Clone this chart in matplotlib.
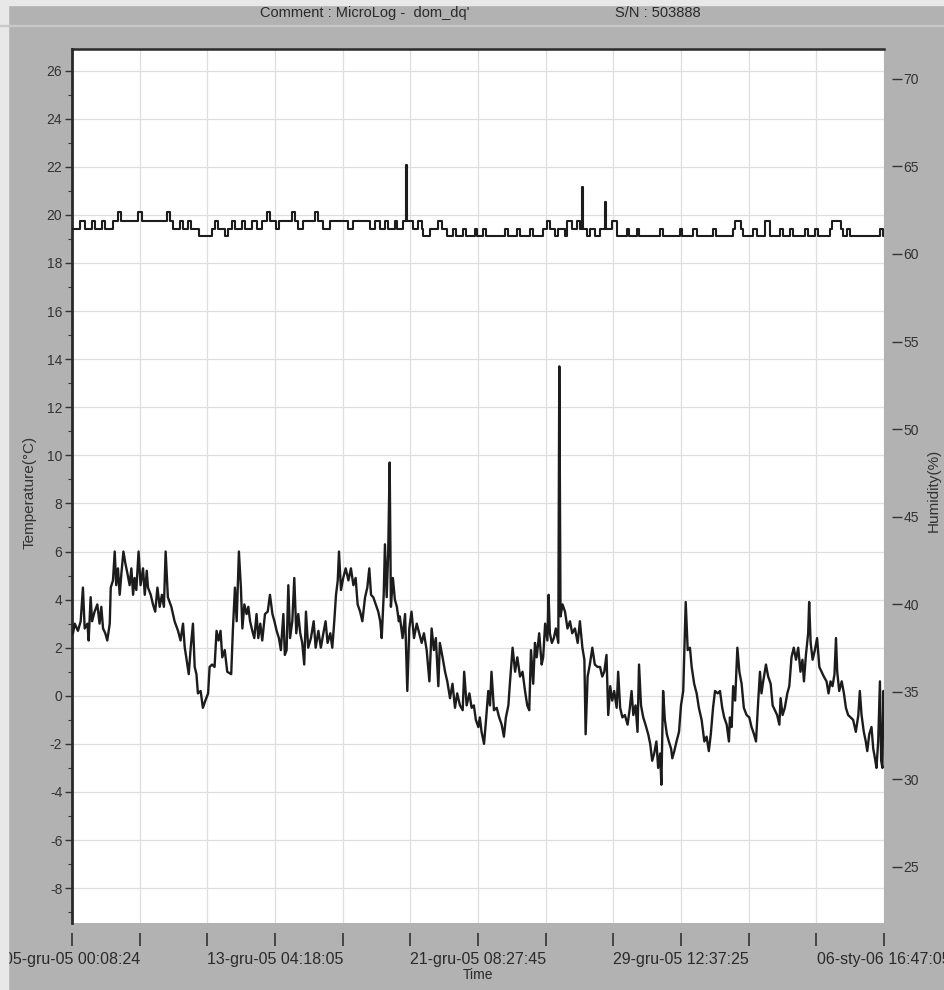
import matplotlib
matplotlib.use("Agg")
import matplotlib.pyplot as plt
from matplotlib.ticker import MultipleLocator
from matplotlib.patches import Rectangle

# ---- data (time in days since 05-12-2005 00:08:24) ----
temperature = [
    (0.04, 2.6), (0.11, 3.0), (0.24, 2.7), (0.35, 3.1), (0.44, 4.5), (0.51, 2.8), (0.62, 3.0), (0.67, 2.3),
    (0.75, 4.1), (0.81, 3.1), (0.91, 3.5), (1.02, 3.8), (1.11, 3.0), (1.18, 3.7), (1.25, 2.8), (1.34, 2.6),
    (1.42, 2.3), (1.52, 3.0), (1.56, 4.5), (1.65, 4.8), (1.72, 6.0), (1.78, 4.6), (1.85, 5.3), (1.92, 4.2),
    (1.99, 5.1), (2.07, 6.0), (2.15, 5.5), (2.23, 5.1), (2.32, 4.6), (2.39, 5.3), (2.46, 4.2), (2.52, 4.9),
    (2.59, 4.4), (2.68, 6.0), (2.76, 4.6), (2.86, 5.3), (2.93, 4.2), (3.01, 5.2), (3.06, 4.5), (3.17, 4.2),
    (3.26, 3.8), (3.35, 3.5), (3.44, 4.5), (3.53, 3.7), (3.62, 4.2), (3.70, 3.7), (3.77, 6.0), (3.86, 4.1),
    (4.00, 3.7), (4.13, 3.1), (4.27, 2.7), (4.37, 2.3), (4.47, 3.0), (4.54, 2.0), (4.60, 1.6), (4.70, 0.9),
    (4.78, 2.0), (4.87, 3.0), (4.94, 1.2), (5.01, 0.9), (5.07, 0.1), (5.18, 0.2), (5.27, -0.5), (5.37, -0.2),
    (5.48, 0.1), (5.54, 1.2), (5.64, 1.3), (5.74, 1.2), (5.82, 2.7), (5.90, 2.3), (5.98, 2.7), (6.05, 1.6),
    (6.15, 1.9), (6.25, 1.0), (6.41, 0.9), (6.48, 2.8),
    (6.56, 4.5), (6.63, 3.1), (6.72, 6.0), (6.80, 4.5), (6.86, 2.8), (6.94, 3.8), (7.03, 3.4), (7.10, 3.7),
    (7.17, 3.1), (7.26, 2.7), (7.34, 2.4), (7.43, 3.4), (7.50, 2.4), (7.58, 3.0), (7.66, 2.3), (7.77, 3.4),
    (7.88, 3.5), (7.97, 4.2), (8.07, 3.4), (8.15, 3.1), (8.24, 2.7), (8.33, 2.4), (8.41, 1.9), (8.51, 3.4),
    (8.57, 1.7), (8.64, 1.9), (8.71, 4.6), (8.78, 2.4), (8.87, 3.1), (8.95, 4.9), (9.03, 2.6), (9.11, 3.4),
    (9.19, 2.6), (9.27, 2.2), (9.35, 1.3), (9.42, 3.5), (9.51, 2.0), (9.62, 2.4), (9.73, 3.1), (9.81, 2.0),
    (9.92, 2.7), (10.02, 2.0), (10.12, 2.6), (10.21, 3.1), (10.29, 2.2), (10.40, 2.6), (10.48, 2.0),
    (10.56, 3.1), (10.63, 4.2), (10.70, 4.8), (10.75, 6.0), (10.83, 4.4), (10.92, 4.9), (11.02, 5.3),
    (11.13, 4.8), (11.23, 5.3), (11.33, 4.6), (11.42, 4.9), (11.50, 3.8), (11.60, 3.5), (11.69, 3.1),
    (11.80, 4.1), (11.89, 4.5), (11.97, 5.3), (12.04, 4.2), (12.13, 4.1), (12.23, 3.8), (12.33, 3.5),
    (12.41, 3.1), (12.47, 2.4), (12.55, 4.2), (12.60, 6.3), (12.67, 4.1), (12.73, 5.9), (12.79, 9.7),
    (12.84, 3.7), (12.92, 4.9), (13.00, 4.0), (13.08, 3.7), (13.16, 3.1),
    (13.20, 3.3), (13.31, 2.4), (13.41, 3.4), (13.50, 0.2), (13.58, 2.8), (13.67, 3.5), (13.77, 2.4),
    (13.88, 3.0), (13.98, 2.6), (14.08, 2.2), (14.17, 2.6), (14.28, 1.9), (14.39, 0.6), (14.48, 2.8),
    (14.57, 1.9), (14.65, 2.4), (14.75, 0.4), (14.81, 2.2), (14.92, 1.6), (15.02, 1.0), (15.11, 0.6),
    (15.22, -0.1), (15.32, 0.5), (15.42, -0.5), (15.51, 0.1), (15.62, -0.4), (15.73, -0.6), (15.79, 1.0),
    (15.89, -0.4), (16.00, 0.1), (16.09, -0.5), (16.18, -0.4), (16.26, -1.0), (16.36, -1.3), (16.42, -0.9),
    (16.49, -1.5), (16.59, -2.0), (16.67, -1.0), (16.76, 0.2), (16.83, -0.4), (16.89, 1.0), (16.99, -0.6),
    (17.10, -0.5), (17.20, -0.9), (17.30, -1.2), (17.39, -1.7), (17.47, -0.9), (17.57, -0.4), (17.63, 0.5),
    (17.74, 2.0), (17.84, 1.0), (17.93, 1.6), (18.04, 0.8), (18.14, 1.0), (18.24, 0.2), (18.33, -0.4),
    (18.41, -0.6), (18.48, 1.9), (18.57, 0.5), (18.64, 2.2), (18.71, 1.6), (18.81, 2.6), (18.91, 1.3),
    (18.97, 1.6), (19.05, 3.0), (19.14, 2.3), (19.19, 4.2), (19.24, 2.6), (19.32, 2.2), (19.40, 2.4),
    (19.48, 2.8), (19.58, 2.2), (19.62, 13.7), (19.67, 3.3), (19.75, 3.8),
    (19.85, 3.5), (19.95, 2.8), (20.05, 3.1), (20.14, 2.6), (20.25, 2.8), (20.36, 2.2), (20.45, 3.1),
    (20.55, 2.0), (20.63, 1.5), (20.68, -1.6), (20.76, 0.8), (20.85, 1.3), (20.95, 2.0), (21.05, 1.3),
    (21.16, 1.2), (21.26, 1.2), (21.35, 0.8), (21.43, 1.0), (21.52, 1.7), (21.59, -0.8), (21.67, 0.4),
    (21.75, -0.2), (21.83, 0.2), (21.93, -0.5), (21.99, 1.0), (22.07, -0.5), (22.16, -0.9), (22.26, -0.8),
    (22.37, -1.2), (22.46, -0.5), (22.53, 0.2), (22.60, -0.8), (22.69, -0.4), (22.77, -1.5), (22.83, 1.3),
    (22.91, -0.4), (23.00, -0.9), (23.09, -1.2), (23.20, -1.6), (23.28, -2.0), (23.36, -2.7), (23.44, -2.4),
    (23.53, -1.9), (23.60, -3.0), (23.68, -2.4), (23.73, -3.7), (23.80, 0.2), (23.87, -1.0), (23.95, -1.6),
    (24.03, -1.9), (24.12, -2.2), (24.17, -2.6), (24.25, -2.3), (24.34, -1.9), (24.44, -1.5), (24.52, -0.4),
    (24.61, 0.2), (24.71, 3.9), (24.79, 1.9), (24.88, 2.0), (24.95, 1.2), (25.05, 0.5), (25.15, 0.1),
    (25.24, -0.5), (25.35, -1.0), (25.46, -1.9), (25.55, -1.7), (25.64, -2.3), (25.72, -1.6), (25.81, -0.5),
    (25.89, 0.2), (26.00, 0.1), (26.09, 0.2), (26.18, -0.5), (26.26, -0.9), (26.36, -1.2), (26.45, -1.9),
    (26.49, -0.9), (26.56, -1.3), (26.62, 0.4), (26.70, -0.2), (26.79, 2.0), (26.87, 1.0), (26.96, 0.5),
    (27.05, -0.5), (27.16, -0.8), (27.27, -0.9), (27.36, -1.3), (27.46, -1.6), (27.54, -1.9), (27.63, -0.2),
    (27.70, 1.0), (27.76, 0.1), (27.83, 0.6), (27.94, 1.3), (28.03, 0.8), (28.13, 0.5), (28.21, -0.4),
    (28.30, -0.6), (28.39, -0.8), (28.48, -1.2), (28.53, -0.1), (28.61, -0.8), (28.70, -0.5), (28.80, 0.1),
    (28.88, 0.4), (28.97, 1.6), (29.06, 2.0), (29.15, 1.5), (29.24, 2.0), (29.33, 1.0), (29.41, 1.5),
    (29.47, 0.6), (29.55, 1.7), (29.64, 2.6), (29.68, 3.9), (29.74, 2.2), (29.82, 1.5), (29.91, 1.9),
    (30.00, 2.4), (30.09, 1.2), (30.18, 1.0), (30.27, 0.8), (30.38, 0.6), (30.46, 0.1), (30.54, 0.6),
    (30.62, 0.4), (30.70, 0.9), (30.76, 2.4), (30.81, 1.0), (30.89, 0.2), (30.99, 0.6), (31.08, 0.1),
    (31.16, -0.5), (31.25, -0.8), (31.35, -0.9), (31.45, -1.0), (31.56, -1.5), (31.66, -0.8), (31.72, 0.2),
    (31.79, -0.8), (31.88, -1.5), (31.96, -1.9), (32.02, -2.3), (32.10, -1.6), (32.19, -1.3), (32.26, -2.2),
    (32.33, -2.6), (32.39, -3.0), (32.46, -1.9), (32.53, 0.6), (32.58, -2.7), (32.63, -3.0), (32.67, 0.2),
    (32.69, -1.0),
]

humidity = [
    (0.00, 61.45), (0.32, 61.9), (0.52, 61.45), (0.79, 61.9), (0.93, 61.45), (1.19, 61.9), (1.33, 61.45),
    (1.66, 61.9), (1.87, 62.4), (1.96, 61.9), (2.67, 62.4), (2.80, 61.9), (3.81, 62.4), (3.95, 61.9),
    (4.05, 61.45), (4.35, 61.9), (4.46, 61.45), (4.68, 61.9), (4.78, 61.45), (5.13, 61.0), (5.62, 61.45),
    (5.76, 61.9), (5.89, 61.45), (6.16, 61.0), (6.29, 61.45), (6.43, 61.9), (6.56, 61.45), (6.83, 61.9),
    (6.96, 61.45), (7.23, 61.9), (7.43, 61.45), (7.64, 61.9), (7.84, 62.4), (7.97, 61.9), (8.21, 61.45),
    (8.34, 61.9), (8.84, 62.4), (8.97, 61.9), (9.10, 61.45), (9.31, 61.9), (9.78, 62.4), (9.92, 61.9),
    (10.12, 61.45), (10.39, 61.9), (11.12, 61.45), (11.33, 61.9), (12.00, 61.45), (12.20, 61.9),
    (12.40, 61.45), (12.60, 61.9), (12.73, 61.45), (13.00, 61.9), (13.07, 61.45), (13.34, 61.9),
    (13.43, 65.1), (13.48, 61.9), (13.74, 61.45), (13.94, 61.9), (14.08, 61.45), (14.14, 61.0),
    (14.41, 61.45), (14.75, 61.9), (14.88, 61.45), (15.08, 61.0), (15.35, 61.45), (15.46, 61.0),
    (15.75, 61.45), (15.86, 61.0), (16.22, 61.45), (16.32, 61.0), (16.56, 61.45), (16.67, 61.0),
    (17.43, 61.45), (17.57, 61.0), (17.90, 61.45), (18.03, 61.0), (18.43, 61.45), (18.57, 61.0),
    (18.98, 61.45), (19.11, 61.9), (19.25, 61.45), (19.44, 61.0), (19.58, 61.45), (19.85, 61.0),
    (19.94, 61.9), (20.12, 61.45), (20.32, 61.9), (20.45, 61.45), (20.52, 63.8), (20.56, 61.45),
    (20.73, 61.0), (20.85, 61.45), (21.06, 61.0), (21.26, 61.45), (21.46, 62.95), (21.52, 61.45),
    (21.73, 61.9), (21.93, 61.0), (22.33, 61.45), (22.44, 61.0), (22.73, 61.45), (22.84, 61.0),
    (23.67, 61.45), (23.80, 61.0), (24.48, 61.45), (24.58, 61.0), (25.02, 61.45), (25.15, 61.0),
    (25.82, 61.45), (25.92, 61.0), (26.62, 61.45), (26.70, 61.9), (26.95, 61.45), (27.03, 61.0),
    (27.43, 61.45), (27.57, 61.0), (27.90, 61.9), (28.10, 61.0), (28.50, 61.45), (28.64, 61.0),
    (28.90, 61.45), (29.04, 61.0), (29.51, 61.45), (29.64, 61.0), (29.91, 61.45), (30.05, 61.0),
    (30.51, 61.45), (30.58, 61.9), (30.98, 61.45), (31.05, 61.0), (31.19, 61.45), (31.32, 61.0),
    (32.53, 61.45), (32.66, 61.0), (32.69, 61.0),
]

x_label_days = [0.0, 8.17338, 16.34676, 24.52014, 32.69352]
x_labels = ["05-gru-05 00:08:24", "13-gru-05 04:18:05", "21-gru-05 08:27:45",
            "29-gru-05 12:37:25", "06-sty-06 16:47:05"]
temp_ticks = list(range(-8, 27, 2))
hum_ticks = list(range(25, 71, 5))

# ---- figure ----
W, H = 945, 990
fig = plt.figure(figsize=(W / 100, H / 100), dpi=100, facecolor="#b2b2b2")
plt.rcParams["font.family"] = ["Liberation Sans", "DejaVu Sans"]

# scan edges
fig.patches.append(Rectangle((0, 0), 8 / W, 1, transform=fig.transFigure, color="#e8e8e8", zorder=0))
fig.patches.append(Rectangle((0, 1 - 5 / H), 1, 5 / H, transform=fig.transFigure, color="#e8e8e8", zorder=0))
fig.patches.append(Rectangle((0, 1 - 26 / H), 1, 1.5 / H, transform=fig.transFigure, color="#c8c8c8", zorder=0))

left, right, top, bottom = 72, 884, 49, 923
ax = fig.add_axes([left / W, 1 - bottom / H, (right - left) / W, (bottom - top) / H])
ax.set_facecolor("white")

td = [p[0] for p in temperature]
tv = [p[1] for p in temperature]
ax.plot(td, tv, color="#1c1c1c", lw=1.7, zorder=3)

ax.set_xlim(0, x_label_days[-1])
ax.set_ylim(-9.45, 26.9)

for s in ["right", "bottom"]:
    ax.spines[s].set_visible(False)
ax.spines["left"].set_linewidth(2.0)
ax.spines["left"].set_color("#2a2a2a")
ax.spines["top"].set_linewidth(1.8)
ax.spines["top"].set_color("#2a2a2a")
ax.spines["bottom"].set_position(("outward", 7))
ax.tick_params(axis="x", direction="out", length=9, width=1.2, color="#333333", pad=5,
               labelsize=11.5, labelcolor="#2a2a2a")
ax.tick_params(axis="y", which="major", direction="out", length=5, width=1.0, color="#333333", pad=2,
               labelsize=10, labelcolor="#333333")
ax.tick_params(axis="y", which="minor", direction="out", length=3, width=0.8, color="#333333")

step = x_label_days[1] / 3
all_x = [i * step for i in range(13)]
ax.set_xticks(all_x, labels=[x_labels[i // 3] if i % 3 == 0 else "" for i in range(13)])
ax.set_yticks(temp_ticks, labels=[str(t) for t in temp_ticks])
ax.yaxis.set_minor_locator(MultipleLocator(1))
ax.grid(True, which="major", color="#dedede", lw=0.9, zorder=0)

ax2 = ax.twinx()
hd = [p[0] for p in humidity]
hv = [p[1] for p in humidity]
ax2.plot(hd, hv, color="#1c1c1c", lw=1.5, drawstyle="steps-post", zorder=3)
ax2.set_ylim(21.8, 71.7)
for s in ["right", "bottom", "top", "left"]:
    ax2.spines[s].set_visible(False)
ax2.spines["right"].set_position(("outward", 6))
ax2.tick_params(axis="y", direction="out", length=7, width=1.0, color="#333333", pad=1,
                labelsize=10, labelcolor="#333333")
ax2.set_yticks(hum_ticks, labels=[str(h) for h in hum_ticks])

fig.text(30 / W, 1 - 492 / H, "Temperature(°C)", rotation=90, ha="center", va="center",
         fontsize=11, color="#333333")
fig.text(934 / W, 1 - 490 / H, "Humidity(%)", rotation=90, ha="center", va="center",
         fontsize=11, color="#333333")
fig.text(478 / W, 1 - 975 / H, "Time", ha="center", va="center",
         fontsize=10, color="#2a2a2a")

fig.text(365 / W, 1 - 13 / H, "Comment : MicroLog -  dom_dq'", ha="center", va="center",
         fontsize=10.5, color="#2a2a2a")
fig.text(658 / W, 1 - 13 / H, "S/N : 503888", ha="center", va="center",
         fontsize=10.5, color="#2a2a2a")

fig.savefig("out.png", dpi=100, facecolor=fig.get_facecolor())
